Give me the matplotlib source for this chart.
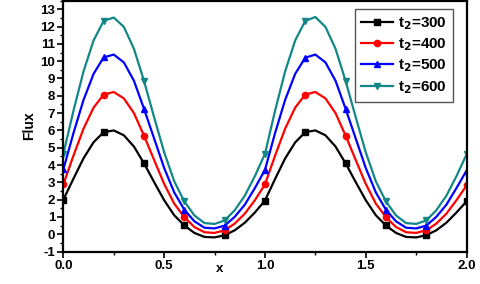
import numpy as np
import matplotlib
matplotlib.use("Agg")
import matplotlib.pyplot as plt
from matplotlib.ticker import MultipleLocator

plt.rcParams['font.family'] = ['Liberation Sans', 'DejaVu Sans']
plt.rcParams['font.weight'] = 'bold'
plt.rcParams['axes.unicode_minus'] = False

# x positions read every 0.05
x = [0.00, 0.05, 0.10, 0.15, 0.20, 0.25, 0.30, 0.35, 0.40, 0.45, 0.50,
     0.55, 0.60, 0.65, 0.70, 0.75, 0.80, 0.85, 0.90, 0.95, 1.00,
     1.05, 1.10, 1.15, 1.20, 1.25, 1.30, 1.35, 1.40, 1.45, 1.50,
     1.55, 1.60, 1.65, 1.70, 1.75, 1.80, 1.85, 1.90, 1.95, 2.00]

flux_300 = [2.00, 3.21, 4.39, 5.32, 5.90, 6.00, 5.72, 5.07, 4.10, 3.02, 1.97,
            1.10, 0.51, 0.08, -0.15, -0.18, -0.05, 0.23, 0.67, 1.26, 1.95,
            3.19, 4.38, 5.31, 5.90, 6.00, 5.72, 5.07, 4.10, 3.02, 1.97,
            1.10, 0.51, 0.08, -0.15, -0.18, -0.05, 0.23, 0.67, 1.26, 1.90]
flux_400 = [2.88, 4.54, 6.10, 7.32, 8.07, 8.22, 7.85, 7.00, 5.70, 4.30, 2.91,
            1.77, 0.99, 0.42, 0.12, 0.08, 0.23, 0.62, 1.19, 1.97, 2.88,
            4.54, 6.10, 7.32, 8.07, 8.22, 7.85, 7.00, 5.70, 4.30, 2.91,
            1.77, 0.99, 0.42, 0.12, 0.08, 0.23, 0.62, 1.19, 1.97, 2.82]
flux_500 = [3.75, 5.84, 7.76, 9.27, 10.22, 10.38, 9.93, 8.87, 7.25, 5.54, 3.83,
            2.42, 1.42, 0.75, 0.38, 0.34, 0.50, 1.01, 1.71, 2.67, 3.72,
            5.84, 7.76, 9.27, 10.20, 10.38, 9.93, 8.87, 7.25, 5.54, 3.83,
            2.42, 1.42, 0.75, 0.38, 0.34, 0.50, 1.01, 1.71, 2.67, 3.68]
flux_600 = [4.65, 7.13, 9.41, 11.20, 12.33, 12.52, 11.98, 10.72, 8.86, 6.77, 4.74,
            3.06, 1.90, 1.09, 0.65, 0.60, 0.80, 1.39, 2.23, 3.36, 4.65,
            7.13, 9.41, 11.20, 12.33, 12.55, 11.98, 10.72, 8.86, 6.77, 4.74,
            3.06, 1.90, 1.09, 0.65, 0.60, 0.80, 1.39, 2.23, 3.36, 4.62]

labels = ['t$_2$=300', 't$_2$=400', 't$_2$=500', 't$_2$=600']
colors = ['black', '#ff0000', '#0000ff', '#138787']
markers = ['s', 'o', '^', 'v']

fig = plt.figure(figsize=(4.8, 2.84), dpi=100)
ax = fig.add_axes([0.132, 0.114, 0.840, 0.884])

for ys, lab, c, m in zip([flux_300, flux_400, flux_500, flux_600], labels, colors, markers):
    ax.plot(x, ys, color=c, lw=1.6, marker=m, markersize=4.5, markevery=4, label=lab)

ax.set_xlim(0, 2)
ax.set_ylim(-1, 13.5)
ax.xaxis.set_minor_locator(MultipleLocator(0.25))
ax.yaxis.set_minor_locator(MultipleLocator(0.5))
ax.set_xticks([0, 0.5, 1.0, 1.5, 2.0])
ax.set_xticklabels(['0.0', '0.5', '1.0', '1.5', '2.0'])
ax.set_yticks(range(-1, 14))
ax.tick_params(which='major', direction='out', length=4, width=1.2, labelsize=9.5, pad=2)
ax.tick_params(which='minor', direction='out', length=2.5, width=1)
for lbl in ax.get_xticklabels() + ax.get_yticklabels():
    lbl.set_fontweight('bold')
for s in ax.spines.values():
    s.set_linewidth(1.6)

ax.set_ylabel('Flux', fontsize=10, fontweight='bold', labelpad=3)
ax.text(0.777, -0.045, 'x', transform=ax.get_xaxis_transform(), ha='center', va='top',
        fontsize=9.5, fontweight='bold')

leg = ax.legend(loc='upper right', bbox_to_anchor=(0.985, 0.997), handlelength=2.1,
                handletextpad=0.3, borderpad=0.4, labelspacing=0.3, fancybox=False,
                framealpha=1, edgecolor='#555555', prop={'weight': 'bold', 'size': 11})
leg.get_frame().set_linewidth(1)

fig.savefig('out.png', dpi=100)
